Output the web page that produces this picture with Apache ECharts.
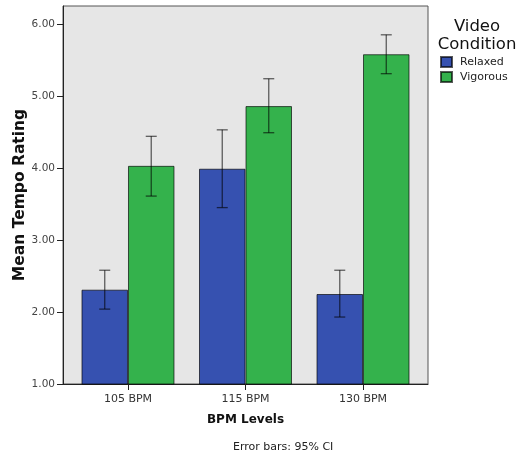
<!DOCTYPE html>
<html>
<head>
<meta charset="utf-8">
<script src="https://cdn.jsdelivr.net/npm/echarts@6/dist/echarts.min.js"></script>
<style>
html,body{margin:0;padding:0;background:#fff;}
#c{width:518px;height:458px;}
</style>
</head>
<body>
<div id="c"></div>
<script>
const categories = ['105 BPM', '115 BPM', '130 BPM'];
const seriesNames = ['Relaxed', 'Vigorous'];
const relaxedMean = [2.31, 3.99, 2.25];
const relaxedLow = [2.04, 3.45, 1.93];
const relaxedHigh = [2.58, 4.53, 2.58];
const vigorousMean = [4.03, 4.86, 5.58];
const vigorousLow = [3.61, 4.49, 5.31];
const vigorousHigh = [4.44, 5.24, 5.85];
const yTicks = [1, 2, 3, 4, 5, 6];

const FONT = 'DejaVu Sans';
const BAR_W = 46.5;
const CAP_W = 11;
const colors = ['#3651b0', '#34b24c'];

const catPos = categories.map((c, i) => i + 1);

function barData(vals) { return vals.map((v, i) => [catPos[i], v]); }
function errData(low, high) { return low.map((l, i) => [catPos[i], l, high[i]]); }

function errRender(sign) {
  return function (params, api) {
    const x = api.value(0);
    const lo = api.coord([x, api.value(1)]);
    const hi = api.coord([x, api.value(2)]);
    const cx = lo[0] + sign * BAR_W / 2;
    const st = { stroke: 'rgba(0,0,0,0.6)', lineWidth: 1.3 };
    return {
      type: 'group',
      children: [
        { type: 'line', shape: { x1: cx, y1: lo[1], x2: cx, y2: hi[1] }, style: st },
        { type: 'line', shape: { x1: cx - CAP_W / 2, y1: lo[1], x2: cx + CAP_W / 2, y2: lo[1] }, style: st },
        { type: 'line', shape: { x1: cx - CAP_W / 2, y1: hi[1], x2: cx + CAP_W / 2, y2: hi[1] }, style: st }
      ]
    };
  };
}

const chart = echarts.init(document.getElementById('c'), null, { renderer: 'canvas' });
chart.setOption({
  animation: false,
  textStyle: { fontFamily: FONT },
  title: {
    text: 'Video\nCondition',
    left: 472, top: 13,
    textAlign: 'center',
    textStyle: { fontFamily: FONT, fontSize: 16.5, fontWeight: 'normal', color: '#111', lineHeight: 18 }
  },
  legend: {
    orient: 'vertical',
    left: 440, top: 56,
    itemWidth: 11, itemHeight: 10, itemGap: 3,
    padding: 0,
    icon: 'rect',
    data: seriesNames,
    textStyle: { fontFamily: FONT, fontSize: 11, color: '#222', padding: [0, 0, 0, 3] }
  },
  graphic: [{
    type: 'text',
    left: 233,
    top: 442,
    style: { text: 'Error bars: 95% CI', font: '11px "DejaVu Sans"', fill: '#222' }
  }],
  grid: {
    left: 63, right: 90, top: 6, bottom: 74,
    outerBoundsMode: 'none',
    containLabel: false,
    show: true, backgroundColor: '#e6e6e6', borderColor: '#555', borderWidth: 1
  },
  xAxis: {
    type: 'value',
    min: 0.447, max: 3.553,
    name: 'BPM Levels',
    nameLocation: 'middle',
    nameGap: 30,
    nameMoveOverlap: false,
    nameTextStyle: { fontFamily: FONT, fontSize: 12, fontWeight: 'bold', color: '#111' },
    axisLine: { show: true, lineStyle: { color: '#222', width: 1 } },
    axisTick: { show: true, length: 6, customValues: catPos, lineStyle: { color: '#222' } },
    axisLabel: {
      customValues: catPos,
      margin: 10,
      fontFamily: FONT, fontSize: 11, color: '#333',
      formatter: v => categories[Math.round(v) - 1] || ''
    },
    splitLine: { show: false }
  },
  yAxis: {
    type: 'value',
    min: 1, max: 6.25,
    name: 'Mean Tempo Rating',
    nameLocation: 'middle',
    nameGap: 35,
    nameMoveOverlap: false,
    nameTextStyle: { fontFamily: FONT, fontSize: 15.5, fontWeight: 'bold', color: '#111' },
    axisLine: { show: true, lineStyle: { color: '#222', width: 1 } },
    axisTick: { show: true, length: 6, customValues: yTicks, lineStyle: { color: '#222' } },
    axisLabel: {
      customValues: yTicks,
      margin: 8,
      fontFamily: FONT, fontSize: 10.5, color: '#444',
      formatter: v => v.toFixed(2)
    },
    splitLine: { show: false }
  },
  series: [
    {
      name: seriesNames[0], type: 'bar', data: barData(relaxedMean),
      barWidth: BAR_W, barGap: '0%',
      itemStyle: { color: colors[0], borderColor: 'rgba(0,0,0,0.65)', borderWidth: 1 }
    },
    {
      name: seriesNames[1], type: 'bar', data: barData(vigorousMean),
      barWidth: BAR_W, barGap: '0%',
      itemStyle: { color: colors[1], borderColor: 'rgba(0,0,0,0.65)', borderWidth: 1 }
    },
    {
      type: 'custom', data: errData(relaxedLow, relaxedHigh),
      renderItem: errRender(-1), z: 10, silent: true
    },
    {
      type: 'custom', data: errData(vigorousLow, vigorousHigh),
      renderItem: errRender(1), z: 10, silent: true
    }
  ]
});
</script>
</body>
</html>
